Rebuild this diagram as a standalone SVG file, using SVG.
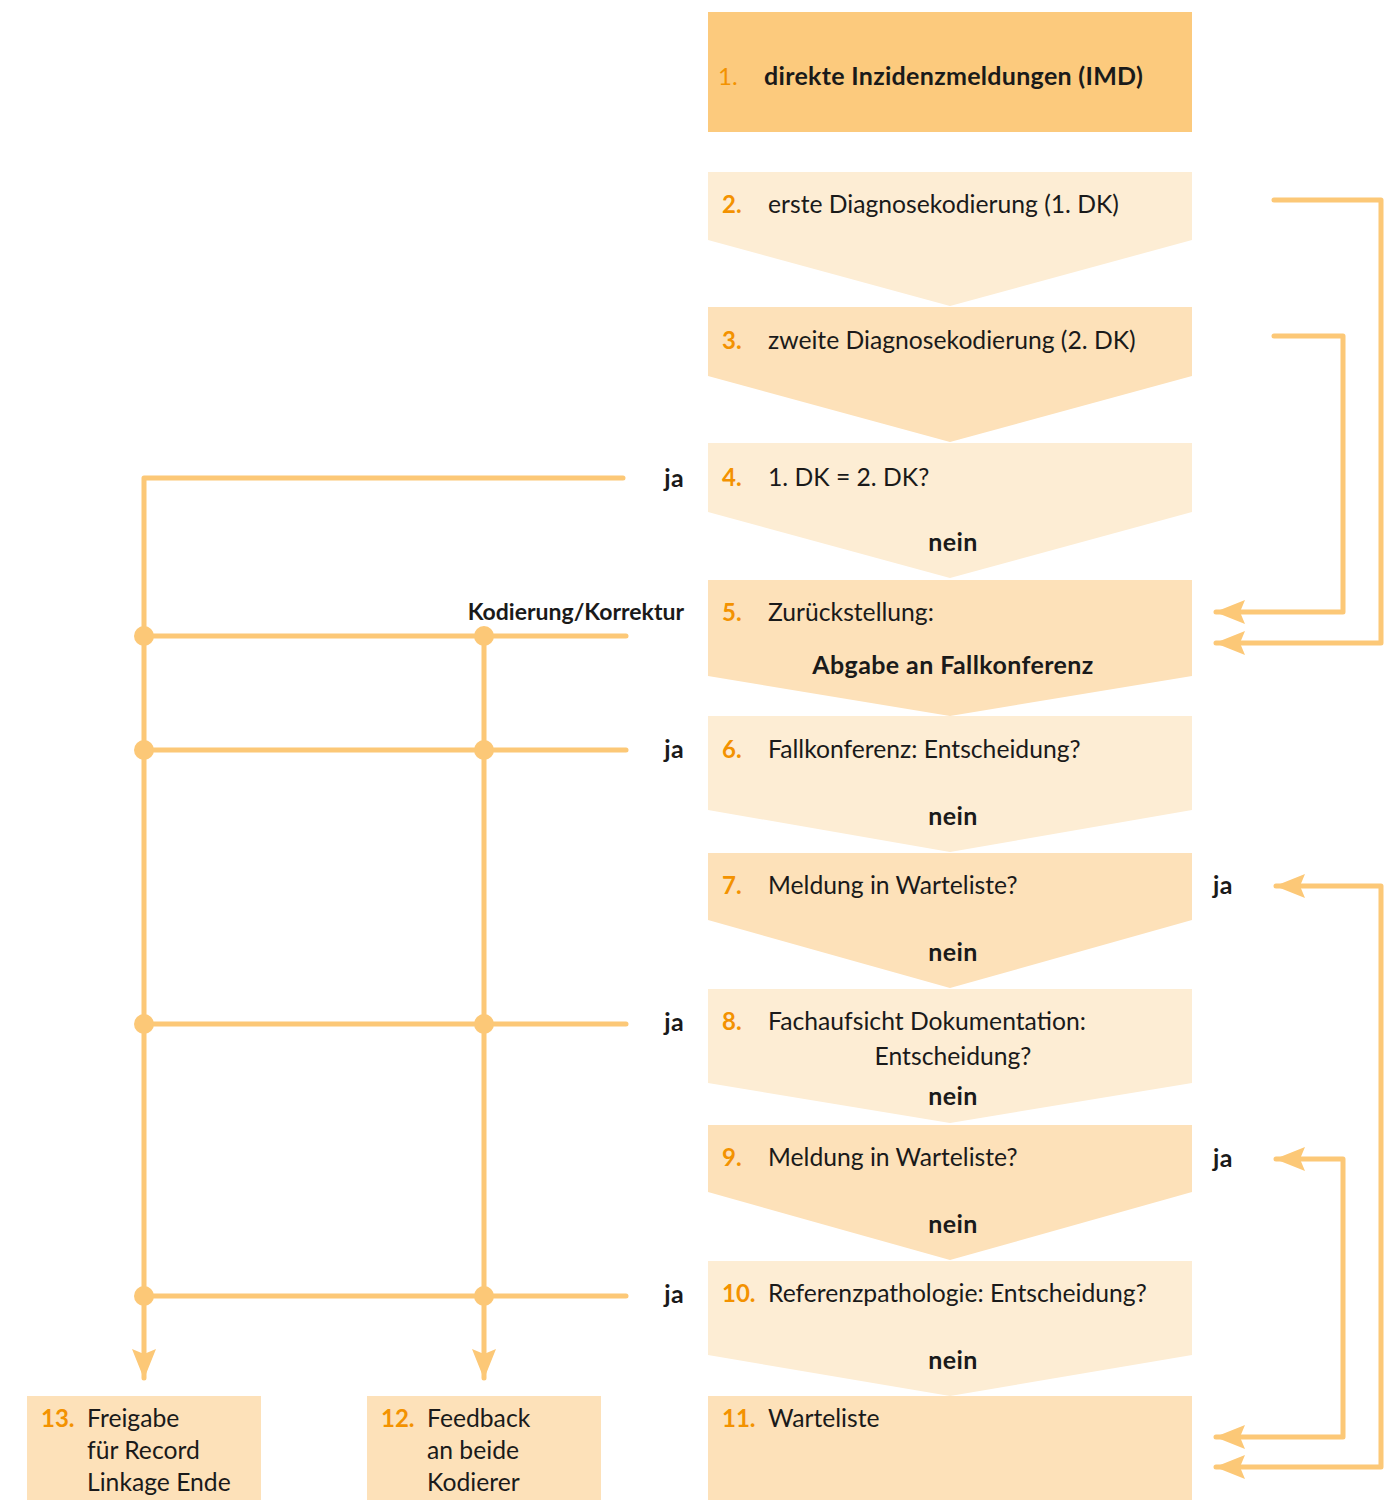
<svg xmlns="http://www.w3.org/2000/svg" width="1389" height="1500" viewBox="0 0 1389 1500">
<defs>
<style>
.t{font-family:Lato,"Liberation Sans",sans-serif;font-size:24.7px;fill:#1a1a1a}
.b{font-family:Lato,"Liberation Sans",sans-serif;font-size:25px;font-weight:bold;fill:#1a1a1a;letter-spacing:0.4px}
.n{font-family:Lato,"Liberation Sans",sans-serif;font-size:24px;font-weight:bold;fill:#F39200}
.l{fill:#FDEDD4}
.m{fill:#FDE1B9}
.c{fill:none;stroke:#FCC877;stroke-width:5;stroke-linejoin:round;stroke-linecap:round}
.d{fill:#FCC877}
</style>
<marker id="ah" viewBox="0 0 30 24" refX="29" refY="12" markerWidth="30" markerHeight="24" markerUnits="userSpaceOnUse" orient="auto-start-reverse">
<path d="M0,0 L30,12 L0,24 L5,12 Z" fill="#FCC877"/>
</marker>
</defs>
<g id="node1">
<rect x="708" y="12" width="484" height="120" fill="#FCCA7D"/>
<text x="718" y="85" class="n" style="font-weight:normal">1.</text>
<text x="764" y="85" class="b" style="letter-spacing:0.3px">direkte Inzidenzmeldungen (IMD)</text>
</g>
<g id="node2">
<path class="l" d="M708,172 H1192 V240 L950,306 L708,240 Z"/>
<text x="722" y="213" class="n">2.</text>
<text x="768" y="213" class="t">erste Diagnosekodierung (1. DK)</text>
</g>
<g id="node3">
<path class="m" d="M708,307 H1192 V376 L950,442 L708,376 Z"/>
<text x="722" y="349" class="n">3.</text>
<text x="768" y="349" class="t">zweite Diagnosekodierung (2. DK)</text>
</g>
<g id="node4">
<path class="l" d="M708,443 H1192 V512 L950,578 L708,512 Z"/>
<text x="722" y="486" class="n">4.</text>
<text x="768" y="486" class="t">1. DK = 2. DK?</text>
<text x="953" y="551" class="b" text-anchor="middle">nein</text>
</g>
<g id="node5">
<path class="m" d="M708,580 H1192 V676 L950,716 L708,676 Z"/>
<text x="722" y="621" class="n">5.</text>
<text x="768" y="621" class="t">Zurückstellung:</text>
<text x="953" y="674" class="b" text-anchor="middle">Abgabe an Fallkonferenz</text>
</g>
<g id="node6">
<path class="l" d="M708,716 H1192 V810 L950,852 L708,810 Z"/>
<text x="722" y="758" class="n">6.</text>
<text x="768" y="758" class="t">Fallkonferenz: Entscheidung?</text>
<text x="953" y="825" class="b" text-anchor="middle">nein</text>
</g>
<g id="node7">
<path class="m" d="M708,853 H1192 V920 L950,988 L708,920 Z"/>
<text x="722" y="894" class="n">7.</text>
<text x="768" y="894" class="t">Meldung in Warteliste?</text>
<text x="953" y="961" class="b" text-anchor="middle">nein</text>
</g>
<g id="node8">
<path class="l" d="M708,989 H1192 V1083 L950,1123 L708,1083 Z"/>
<text x="722" y="1030" class="n">8.</text>
<text x="768" y="1030" class="t">Fachaufsicht Dokumentation:</text>
<text x="953" y="1065" class="t" text-anchor="middle">Entscheidung?</text>
<text x="953" y="1105" class="b" text-anchor="middle">nein</text>
</g>
<g id="node9">
<path class="m" d="M708,1125 H1192 V1192 L950,1260 L708,1192 Z"/>
<text x="722" y="1166" class="n">9.</text>
<text x="768" y="1166" class="t">Meldung in Warteliste?</text>
<text x="953" y="1233" class="b" text-anchor="middle">nein</text>
</g>
<g id="node10">
<path class="l" d="M708,1261 H1192 V1355 L950,1396 L708,1355 Z"/>
<text x="722" y="1302" class="n">10.</text>
<text x="768" y="1302" class="t">Referenzpathologie: Entscheidung?</text>
<text x="953" y="1369" class="b" text-anchor="middle">nein</text>
</g>
<g id="node11">
<rect class="m" x="708" y="1396" width="484" height="104"/>
<text x="722" y="1427" class="n">11.</text>
<text x="768" y="1427" class="t">Warteliste</text>
</g>
<g id="node12">
<rect class="m" x="367" y="1396" width="234" height="104"/>
<text x="381" y="1427" class="n">12.</text>
<text x="427" y="1427" class="t">Feedback</text>
<text x="427" y="1459" class="t">an beide</text>
<text x="427" y="1491" class="t">Kodierer</text>
</g>
<g id="node13">
<rect class="m" x="27" y="1396" width="234" height="104"/>
<text x="41" y="1427" class="n">13.</text>
<text x="87" y="1427" class="t">Freigabe</text>
<text x="87" y="1459" class="t">für Record</text>
<text x="87" y="1491" class="t">Linkage Ende</text>
</g>
<g id="connectors">
<path class="c" d="M623,478 H144 V1378" marker-end="url(#ah)"/>
<path class="c" d="M484,636 V1378" marker-end="url(#ah)"/>
<path class="c" d="M144,636 H626"/>
<path class="c" d="M144,750 H626"/>
<path class="c" d="M144,1024 H626"/>
<path class="c" d="M144,1296 H626"/>
<path class="c" d="M1274,200 H1381 V643 H1216" marker-end="url(#ah)"/>
<path class="c" d="M1274,336 H1343 V612 H1216" marker-end="url(#ah)"/>
<path class="c" d="M1276,886 H1381 V1467 H1216" marker-start="url(#ah)" marker-end="url(#ah)"/>
<path class="c" d="M1276,1159 H1343 V1437 H1216" marker-start="url(#ah)" marker-end="url(#ah)"/>
<circle class="d" cx="144" cy="636" r="10"/>
<circle class="d" cx="484" cy="636" r="10"/>
<circle class="d" cx="144" cy="750" r="10"/>
<circle class="d" cx="484" cy="750" r="10"/>
<circle class="d" cx="144" cy="1024" r="10"/>
<circle class="d" cx="484" cy="1024" r="10"/>
<circle class="d" cx="144" cy="1296" r="10"/>
<circle class="d" cx="484" cy="1296" r="10"/>
<text x="684" y="487" class="b" text-anchor="end">ja</text>
<text x="684" y="620" class="b" text-anchor="end" style="font-size:23px;letter-spacing:0">Kodierung/Korrektur</text>
<text x="684" y="758" class="b" text-anchor="end">ja</text>
<text x="684" y="1031" class="b" text-anchor="end">ja</text>
<text x="684" y="1303" class="b" text-anchor="end">ja</text>
<text x="1213" y="894" class="b">ja</text>
<text x="1213" y="1167" class="b">ja</text>
</g>
</svg>
